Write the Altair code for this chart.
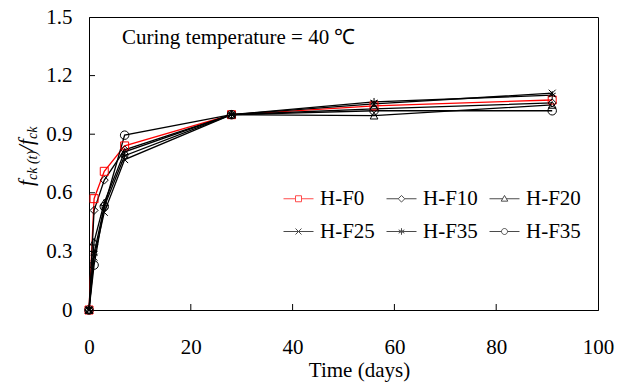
import altair as alt
import pandas as pd

# ---- data ----
days = [0, 1, 3, 7, 28, 56, 91]
series_keys = ["H-F0", "H-F10", "H-F20", "H-F25", "H-F35#1", "H-F35#2"]
hf0 = [0, 0.57, 0.71, 0.84, 1.0, 1.045, 1.075]
hf10 = [0, 0.51, 0.665, 0.82, 1.0, 1.03, 1.06]
hf20 = [0, 0.35, 0.55, 0.81, 1.0, 0.995, 1.05]
hf25 = [0, 0.27, 0.50, 0.77, 1.0, 1.055, 1.11]
hf35a = [0, 0.29, 0.53, 0.79, 1.0, 1.065, 1.10]
hf35b = [0, 0.23, 0.53, 0.895, 1.0, 1.02, 1.02]
x_ticks = [0, 20, 40, 60, 80, 100]
y_ticks = [0, 0.3, 0.6, 0.9, 1.2, 1.5]
x_inner_ticks = [20, 40, 60, 80]
y_inner_ticks = [0.3, 0.6, 0.9, 1.2]

all_vals = [hf0, hf10, hf20, hf25, hf35a, hf35b]
rows = []
for key, vals in zip(series_keys, all_vals):
    for d, v in zip(days, vals):
        rows.append({"series": key, "day": d, "ratio": v})
df = pd.DataFrame(rows)

FONT = "Liberation Serif"
FS = 21
W, H = 509, 293

colors = ["#FF0000", "#000000", "#000000", "#000000", "#000000", "#000000"]
x_scale = alt.Scale(domain=[0, 100], nice=False)
y_scale = alt.Scale(domain=[0, 1.5], nice=False)

# marker shapes on the plot
plot_shapes = [
    ("square", 64),
    ("diamond", 64),
    ("triangle-up", 60),
    ("M-1,-1L1,1M-1,1L1,-1", 49),
    ("M0,-1L0,1M-0.87,-0.5L0.87,0.5M-0.87,0.5L0.87,-0.5", 64),
    ("circle", 72),
]
# legend symbols: marker with a line through it
legend_shapes = [
    "M-5,0L-1,0M1,0L5,0M-1,-1L1,-1L1,1L-1,1Z",
    "M-5,0L-1.1,0M1.1,0L5,0M0,-1.1L1.1,0L0,1.1L-1.1,0Z",
    "M-5,0L-0.55,0M0.55,0L5,0M0,-1.1L1.1,0.8L-1.1,0.8Z",
    "M-5,0L5,0M-1,-1L1,1M-1,1L1,-1",
    "M-5,0L5,0M0,-1.1L0,1.1M-0.95,-0.55L0.95,0.55M-0.95,0.55L0.95,-0.55",
    "M-5,0L-1,0M1,0L5,0M1,0A1,1,0,1,1,-1,0A1,1,0,1,1,1,0",
]

base = alt.Chart(df)

x_main = alt.Axis(values=x_ticks, ticks=False, tickSize=0, labelPadding=26, labelFlush=False,
                  title="Time (days)", titleX=270, titleY=66, titleBaseline="alphabetic",
                  grid=False, orient="bottom", domainColor="black", domainWidth=1,
                  labelFont=FONT, labelFontSize=FS, labelColor="black",
                  titleFont=FONT, titleFontSize=FS, titleFontWeight="normal", titleColor="black")
y_main = alt.Axis(values=y_ticks, labelExpr="datum.value == 0 ? '0' : format(datum.value, '.1f')",
                  ticks=False, tickSize=0, labelPadding=17, labelFlush=False, title=None,
                  grid=False, orient="left", domainColor="black", domainWidth=1,
                  labelFont=FONT, labelFontSize=FS, labelColor="black")

X = alt.X("day:Q", scale=x_scale, axis=x_main)
Y = alt.Y("ratio:Q", scale=y_scale, axis=y_main)

layers = []
for key, col in zip(series_keys, colors):
    layers.append(
        base.transform_filter(alt.datum.series == key).mark_line(
            strokeWidth=1.3, clip=False, color=col
        ).encode(x=X, y=Y)
    )
for key, col, (shp, sz) in zip(series_keys, colors, plot_shapes):
    layers.append(
        base.transform_filter(alt.datum.series == key).mark_point(
            filled=False, strokeWidth=1, clip=False, opacity=1, color=col
        ).encode(x=X, y=Y, shape=alt.value(shp), size=alt.value(sz))
    )

# inner tick marks (ticks point into the plot)
xt = alt.Chart(pd.DataFrame({"day": x_inner_ticks})).mark_rule(color="black", strokeWidth=1).encode(
    x=X, y=alt.value(H - 6), y2=alt.value(H)
)
yt_ticks = alt.Chart(pd.DataFrame({"ratio": y_inner_ticks})).mark_rule(color="black", strokeWidth=1).encode(
    y=Y, x=alt.value(0), x2=alt.value(6)
)
layers += [xt, yt_ticks]

legend = alt.Legend(title=None, orient="none", legendX=199, legendY=171, columns=3,
                    direction="horizontal",
                    symbolSize=36, symbolStrokeWidth=1, labelFont=FONT, labelFontSize=FS,
                    labelColor="black", labelOffset=11, columnPadding=9, rowPadding=11,
                    padding=0, labelExpr="split(datum.label, '#')[0]")

decoy = base.transform_filter("false").mark_point(filled=False, strokeWidth=1).encode(
    color=alt.Color("series:N", scale=alt.Scale(domain=series_keys, range=colors), legend=legend),
    shape=alt.Shape("series:N", scale=alt.Scale(domain=series_keys, range=legend_shapes),
                    legend=legend),
)
layers.append(decoy)

one = pd.DataFrame({"a": [0]})

def txt(s, x, y, size=FS, italic=False, angle=0, align="left"):
    return alt.Chart(one).mark_text(
        font=FONT, fontSize=size, fontStyle="italic" if italic else "normal",
        color="black", align=align, baseline="alphabetic", angle=angle
    ).encode(x=alt.value(x), y=alt.value(y), text=alt.value(s))

layers.append(txt("Curing temperature = 40 \u2103", 33, 27))

# rotated y-axis title: f_ck(t) / f_ck
layers += [
    txt("f", -56, 169, 21, True, 270),
    txt("ck (t)", -52, 163, 14, True, 270),
    txt("/", -56, 134, 21, True, 270),
    txt("f", -56, 128, 21, True, 270),
    txt("ck", -52, 122, 14, True, 270),
]

chart = alt.layer(*layers).properties(
    width=W, height=H,
    autosize=alt.AutoSizeParams(type="none"),
    padding={"left": 89, "top": 17, "right": 32, "bottom": 73},
    background="white",
).configure_view(stroke="black", strokeWidth=1)

chart.save("out.html", embed_options={"renderer": "svg", "actions": False})
